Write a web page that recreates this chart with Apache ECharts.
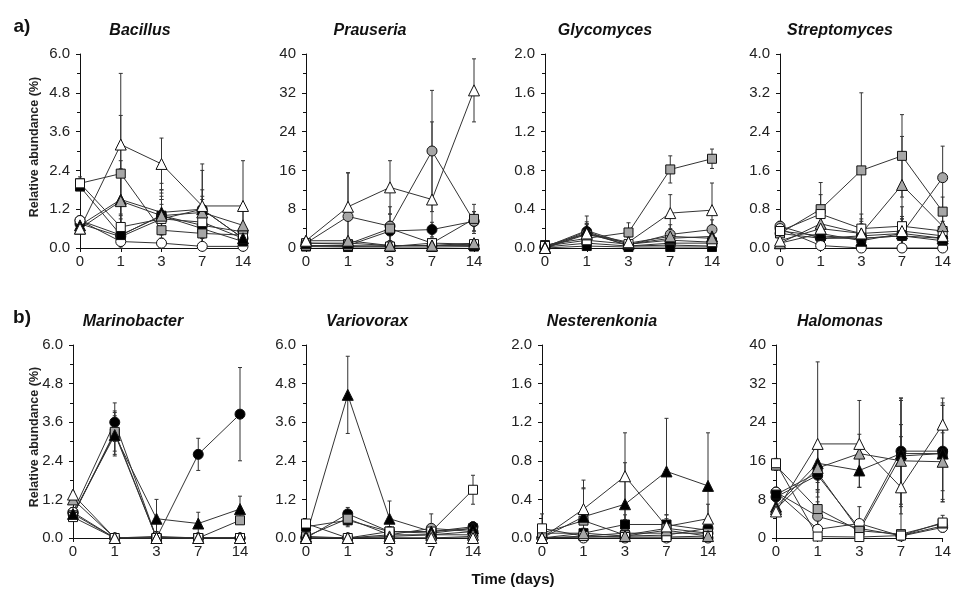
<!DOCTYPE html>
<html>
<head>
<meta charset="utf-8" />
<title>Relative abundance</title>
<script src="https://cdn.jsdelivr.net/npm/echarts@6/dist/echarts.min.js"></script>
<style>
  html, body { margin: 0; padding: 0; background: #fff; }
  #chart { width: 954px; height: 593px; }
</style>
</head>
<body>
<div id="chart"></div>
<script type="text/javascript">
// sampling days (x axis)
var days = ['0', '1', '3', '7', '14'];
var titles = ['Bacillus', 'Prauseria', 'Glycomyces', 'Streptomyces',
              'Marinobacter', 'Variovorax', 'Nesterenkonia', 'Halomonas'];
var axisMax = [6, 40, 2, 4, 6, 6, 2, 40];

// treatment order in every panel:
// black circle, grey circle, white circle, black square, grey square, white square,
// black triangle, grey triangle, white triangle
var bacillus = [
  [0.75, 0.35, 0.90, 1.20, 0.30],
  [0.85, 0.40, 1.00, 0.70, 0.50],
  [0.85, 0.20, 0.15, 0.05, 0.05],
  [1.90, 0.40, 1.00, 0.60, 0.20],
  [2.00, 2.30, 0.55, 0.45, 0.40],
  [2.00, 0.65, 0.90, 0.80, 0.30],
  [0.70, 1.50, 1.10, 1.20, 0.30],
  [0.60, 1.45, 1.00, 1.10, 0.70],
  [0.60, 3.20, 2.60, 1.30, 1.30]
];
var bacillusErr = [
  [0.1, 0.3, 0.6, 0.3, 0.2],
  [0.1, 0.5, 0.6, 0.4, 0.2],
  [0.1, 0.1, 0.1, 0.05, 0.05],
  [0.1, 0.3, 0.8, 0.3, 0.2],
  [0.2, 1.8, 0.8, 0.4, 0.2],
  [0.1, 0.4, 0.6, 1.0, 0.2],
  [0.1, 1.2, 0.9, 0.4, 0.3],
  [0.1, 1.0, 0.7, 1.3, 0.5],
  [0.1, 2.2, 0.8, 1.3, 1.4]
];

var prauseria = [
  [0.5, 0.5, 3.5, 3.8, 5.5],
  [1.0, 6.5, 4.5, 20.0, 5.5],
  [0.5, 0.3, 0.5, 0.5, 0.5],
  [0.3, 0.2, 0.2, 0.2, 0.3],
  [1.0, 0.8, 4.0, 1.0, 6.0],
  [0.5, 0.5, 0.3, 1.0, 0.8],
  [1.0, 1.0, 0.5, 0.5, 0.8],
  [1.5, 1.5, 0.5, 0.5, 1.0],
  [1.5, 8.5, 12.5, 10.0, 32.5]
];
var prauseriaErr = [
  [0.3, 0.3, 2, 1.5, 2],
  [0.5, 9, 4, 12.5, 2],
  [0.2, 0.2, 0.2, 0.3, 0.3],
  [0.1, 0.1, 0.1, 0.1, 0.1],
  [0.5, 1, 3, 1, 3],
  [0.2, 0.3, 0.2, 0.5, 0.3],
  [0.3, 0.5, 0.3, 0.3, 0.3],
  [0.5, 0.5, 0.3, 0.3, 0.5],
  [0.5, 7, 5.5, 16, 6.5]
];

var glycomyces = [
  [0.00, 0.17, 0.02, 0.05, 0.05],
  [0.02, 0.15, 0.03, 0.14, 0.19],
  [0.01, 0.05, 0.02, 0.03, 0.02],
  [0.00, 0.02, 0.01, 0.01, 0.01],
  [0.03, 0.10, 0.16, 0.81, 0.92],
  [0.02, 0.08, 0.04, 0.08, 0.06],
  [0.01, 0.18, 0.04, 0.10, 0.12],
  [0.00, 0.14, 0.05, 0.12, 0.10],
  [0.00, 0.15, 0.06, 0.36, 0.39]
];
var glycomycesErr = [
  [0, 0.1, 0.02, 0.05, 0.05],
  [0.01, 0.1, 0.03, 0.1, 0.1],
  [0, 0.05, 0.02, 0.03, 0.02],
  [0, 0.05, 0.01, 0.02, 0.02],
  [0.02, 0.1, 0.1, 0.14, 0.1],
  [0.01, 0.05, 0.02, 0.05, 0.05],
  [0, 0.15, 0.03, 0.1, 0.1],
  [0, 0.1, 0.03, 0.05, 0.05],
  [0, 0.1, 0.05, 0.19, 0.28]
];

var streptomyces = [
  [0.30, 0.20, 0.20, 0.25, 0.20],
  [0.45, 0.20, 0.25, 0.30, 1.45],
  [0.40, 0.05, 0.00, 0.00, 0.00],
  [0.35, 0.25, 0.20, 0.25, 0.15],
  [0.30, 0.80, 1.60, 1.90, 0.75],
  [0.35, 0.70, 0.40, 0.45, 0.35],
  [0.10, 0.30, 0.15, 0.30, 0.20],
  [0.10, 0.50, 0.30, 1.30, 0.45],
  [0.15, 0.40, 0.30, 0.35, 0.25]
];
var streptomycesErr = [
  [0.1, 0.2, 0.2, 0.2, 0.1],
  [0.1, 0.2, 0.3, 0.3, 0.65],
  [0.1, 0.05, 0, 0, 0],
  [0.1, 0.2, 0.2, 0.2, 0.1],
  [0.1, 0.55, 1.6, 0.85, 0.3],
  [0.1, 0.4, 0.3, 0.4, 0.2],
  [0.05, 0.2, 0.2, 0.3, 0.2],
  [0.05, 0.3, 0.3, 1.0, 0.3],
  [0.05, 0.3, 0.2, 0.3, 0.2]
];

var marinobacter = [
  [0.80, 3.60, 0.00, 2.60, 3.85],
  [0.75, 0.00, 0.05, 0.00, 0.00],
  [0.80, 0.00, 0.00, 0.00, 0.00],
  [0.70, 3.25, 0.00, 0.00, 0.00],
  [0.70, 3.30, 0.00, 0.00, 0.55],
  [0.65, 0.00, 0.00, 0.00, 0.00],
  [0.75, 3.20, 0.60, 0.45, 0.90],
  [1.20, 0.00, 0.00, 0.00, 0.00],
  [1.35, 0.00, 0.00, 0.00, 0.00]
];
var marinobacterErr = [
  [0.1, 0.6, 0, 0.5, 1.45],
  [0.1, 0, 0.05, 0, 0],
  [0.1, 0, 0, 0, 0],
  [0.1, 0.7, 0, 0, 0],
  [0.1, 0.6, 0, 0, 0.1],
  [0.1, 0, 0, 0, 0],
  [0.1, 0.6, 0.6, 0.35, 0.4],
  [0.1, 0, 0, 0, 0],
  [0.1, 0, 0, 0, 0]
];

var variovorax = [
  [0.00, 0.75, 0.20, 0.20, 0.35],
  [0.00, 0.00, 0.10, 0.30, 0.20],
  [0.05, 0.00, 0.00, 0.00, 0.05],
  [0.35, 0.55, 0.20, 0.15, 0.30],
  [0.05, 0.60, 0.10, 0.10, 0.20],
  [0.45, 0.00, 0.20, 0.20, 1.50],
  [0.05, 4.45, 0.60, 0.20, 0.30],
  [0.00, 0.00, 0.05, 0.10, 0.10],
  [0.00, 0.00, 0.00, 0.00, 0.00]
];
var variovoraxErr = [
  [0, 0.2, 0.1, 0.1, 0.1],
  [0, 0, 0.05, 0.45, 0.1],
  [0, 0, 0, 0, 0.02],
  [0.05, 0.2, 0.1, 0.1, 0.1],
  [0.02, 0.2, 0.1, 0.1, 0.1],
  [0.1, 0, 0.1, 0.1, 0.45],
  [0.02, 1.2, 0.55, 0.15, 0.2],
  [0, 0, 0, 0, 0],
  [0, 0, 0, 0, 0]
];

var nesterenkonia = [
  [0.00, 0.01, 0.02, 0.03, 0.10],
  [0.00, 0.02, 0.05, 0.05, 0.05],
  [0.00, 0.00, 0.00, 0.00, 0.00],
  [0.05, 0.05, 0.14, 0.14, 0.08],
  [0.05, 0.18, 0.03, 0.10, 0.05],
  [0.10, 0.02, 0.01, 0.01, 0.02],
  [0.00, 0.22, 0.35, 0.69, 0.54],
  [0.00, 0.05, 0.02, 0.08, 0.02],
  [0.00, 0.30, 0.64, 0.12, 0.20]
];
var nesterenkoniaErr = [
  [0, 0.01, 0.02, 0.03, 0.05],
  [0, 0.02, 0.05, 0.05, 0.05],
  [0, 0, 0, 0, 0],
  [0.02, 0.05, 0.1, 0.1, 0.05],
  [0.03, 0.33, 0.05, 0.1, 0.05],
  [0.15, 0.02, 0.01, 0.01, 0.02],
  [0, 0.3, 0.43, 0.55, 0.55],
  [0, 0.05, 0.02, 0.05, 0.02],
  [0, 0.3, 0.45, 0.12, 0.15]
];

var halomonas = [
  [8.5, 13.0, 2.0, 18.0, 18.0],
  [9.5, 4.5, 2.0, 0.5, 2.5],
  [9.5, 1.8, 3.0, 0.4, 2.2],
  [9.0, 13.5, 1.5, 17.0, 17.5],
  [15.0, 6.0, 1.5, 0.8, 3.0],
  [15.5, 0.3, 0.2, 0.5, 3.2],
  [6.5, 15.5, 14.0, 17.5, 17.5],
  [6.0, 14.5, 17.5, 16.0, 15.8],
  [5.5, 19.5, 19.5, 10.5, 23.5]
];
var halomonasErr = [
  [1, 3, 1, 11, 10],
  [1, 3, 1, 0.5, 1],
  [1, 1, 3.5, 0.3, 1],
  [1, 5, 1, 12, 10],
  [1, 4, 1, 0.5, 1],
  [1, 0.3, 0.2, 0.5, 1.5],
  [1, 4, 3.5, 11, 10],
  [1, 5, 4, 5, 6],
  [1, 17, 9, 13, 5.5]
];

var panelMeans = [bacillus, prauseria, glycomyces, streptomyces,
                  marinobacter, variovorax, nesterenkonia, halomonas];
var panelErrs = [bacillusErr, prauseriaErr, glycomycesErr, streptomycesErr,
                 marinobacterErr, variovoraxErr, nesterenkoniaErr, halomonasErr];

// marker look of each treatment
var shapes = ['circle', 'circle', 'circle', 'rect', 'rect', 'rect', 'triangle', 'triangle', 'triangle'];
var fills = ['#000000', '#a6a6a6', '#ffffff', '#000000', '#a6a6a6', '#ffffff', '#000000', '#a6a6a6', '#ffffff'];
var sizes = [10, 10, 10, 9, 9, 9, 11, 11, 11];

// plot rectangles
var grids = [
  {left: 80, top: 54, width: 163, height: 194},
  {left: 306, top: 54, width: 168, height: 194},
  {left: 545, top: 54, width: 167, height: 194},
  {left: 780, top: 54, width: 163, height: 194},
  {left: 73, top: 345, width: 167, height: 193},
  {left: 306, top: 345, width: 167, height: 193},
  {left: 542, top: 345, width: 166, height: 193},
  {left: 776, top: 345, width: 169, height: 193}
];

var myChart = echarts.init(document.getElementById('chart'), null, {renderer: 'canvas'});

var labelFont = {color: '#222', fontSize: 15, fontFamily: 'Liberation Sans, Arial, sans-serif'};

var xAxes = [], yAxes = [], series = [];
grids.forEach(function(g, p) {
  xAxes.push({
    type: 'category', gridIndex: p, data: days, boundaryGap: false,
    axisLine: {lineStyle: {color: '#111', width: 1}},
    axisTick: {show: true, length: 4, lineStyle: {color: '#111'}},
    axisLabel: Object.assign({margin: 6, interval: 0}, labelFont),
    splitLine: {show: false}
  });
  var mx = axisMax[p];
  yAxes.push({
    type: 'value', gridIndex: p, min: 0, max: mx, interval: mx / 5,
    axisLine: {show: true, lineStyle: {color: '#111', width: 1}},
    axisTick: {show: true, length: 4, lineStyle: {color: '#111'}},
    minorTick: {show: true, splitNumber: 2, length: 3, lineStyle: {color: '#111'}},
    axisLabel: Object.assign({
      margin: 10,
      formatter: function(v) { return mx < 10 ? v.toFixed(1) : String(v); }
    }, labelFont),
    splitLine: {show: false}
  });

  // error bars first so markers sit on top
  var errData = [];
  panelMeans[p].forEach(function(row, t) {
    row.forEach(function(m, i) {
      var e = panelErrs[p][t][i];
      if (e > 0) errData.push([i, Math.max(0, m - e), Math.min(mx, m + e)]);
    });
  });
  series.push({
    type: 'custom', xAxisIndex: p, yAxisIndex: p, data: errData, z: 1, silent: true,
    renderItem: function(params, api) {
      var lo = api.coord([api.value(0), api.value(1)]);
      var hi = api.coord([api.value(0), api.value(2)]);
      var st = {stroke: '#333', lineWidth: 1};
      return {type: 'group', children: [
        {type: 'line', shape: {x1: lo[0], y1: lo[1], x2: hi[0], y2: hi[1]}, style: st},
        {type: 'line', shape: {x1: hi[0] - 2, y1: hi[1], x2: hi[0] + 2, y2: hi[1]}, style: st},
        {type: 'line', shape: {x1: lo[0] - 2, y1: lo[1], x2: lo[0] + 2, y2: lo[1]}, style: st}
      ]};
    }
  });

  panelMeans[p].forEach(function(row, t) {
    series.push({
      type: 'line', xAxisIndex: p, yAxisIndex: p, data: row, z: 2,
      symbol: shapes[t], symbolSize: sizes[t], showAllSymbol: true,
      lineStyle: {color: '#333', width: 1},
      itemStyle: {color: fills[t], borderColor: '#111', borderWidth: 1},
      emphasis: {disabled: true}
    });
  });
});

// panel titles and letters
var texts = [];
var titlePos = [[140, 31], [370, 31], [605, 31], [840, 31], [133, 322], [367, 322], [602, 322], [840, 322]];
titles.forEach(function(name, i) {
  texts.push({
    type: 'text', x: titlePos[i][0], y: titlePos[i][1],
    style: {text: name, font: 'italic bold 16px Liberation Sans, Arial, sans-serif',
            fill: '#111', textAlign: 'center', textVerticalAlign: 'middle'}
  });
});
[['a)', 22, 27], ['b)', 22, 318]].forEach(function(l) {
  texts.push({
    type: 'text', x: l[1], y: l[2],
    style: {text: l[0], font: 'bold 19px Liberation Sans, Arial, sans-serif',
            fill: '#111', textAlign: 'center', textVerticalAlign: 'middle'}
  });
});
[147, 437].forEach(function(cy) {
  texts.push({
    type: 'text', x: 35, y: cy, rotation: Math.PI / 2,
    style: {text: 'Relative abundance (%)', font: 'bold 12.5px Liberation Sans, Arial, sans-serif',
            fill: '#222', textAlign: 'center', textVerticalAlign: 'middle'}
  });
});
texts.push({
  type: 'text', x: 513, y: 580,
  style: {text: 'Time (days)', font: 'bold 15px Liberation Sans, Arial, sans-serif',
          fill: '#111', textAlign: 'center', textVerticalAlign: 'middle'}
});

var option = {
  animation: false,
  backgroundColor: '#ffffff',
  grid: grids,
  xAxis: xAxes,
  yAxis: yAxes,
  series: series,
  graphic: texts
};
myChart.setOption(option);
</script>
</body>
</html>
